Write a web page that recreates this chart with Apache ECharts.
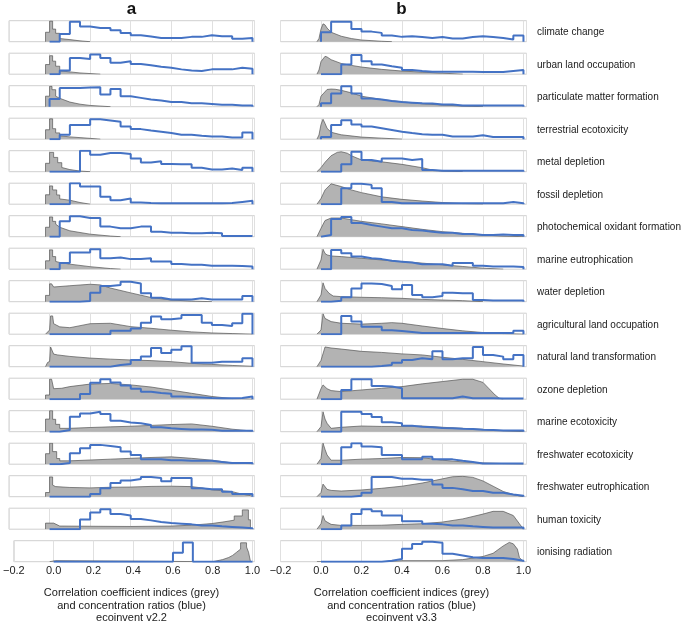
<!DOCTYPE html>
<html><head><meta charset="utf-8">
<script src="https://cdn.jsdelivr.net/npm/echarts@6/dist/echarts.min.js"></script>
<style>html,body{margin:0;padding:0;background:#fff}#c{width:685px;height:622px}</style>
</head><body><div id="c"></div>
<script>
const categories = ['climate change','urban land occupation','particulate matter formation','terrestrial ecotoxicity','metal depletion','fossil depletion','photochemical oxidant formation','marine eutrophication','water depletion','agricultural land occupation','natural land transformation','ozone depletion','marine ecotoxicity','freshwater ecotoxicity','freshwater eutrophication','human toxicity','ionising radiation'];
const columnTitles = ['a','b'];
const axisTitleA = ['Correlation coefficient indices (grey)','and concentration ratios (blue)','ecoinvent v2.2'];
const axisTitleB = ['Correlation coefficient indices (grey)','and concentration ratios (blue)','ecoinvent v3.3'];
const xTickLabels = ['\u22120.2','0.0','0.2','0.4','0.6','0.8','1.0'];
const binEdges = [0,0.05,0.1,0.15,0.2,0.25,0.3,0.35,0.4,0.45,0.5,0.55,0.6,0.65,0.7,0.75,0.8,0.85,0.9,0.95,1.0];

// concentration ratios (blue), 20 bins, relative height 0-10
const blueA = [
[0,3.7,9.5,7.2,6.5,6.5,5.4,4.2,3.1,2.5,1.8,1.8,1.8,2.3,2.3,3.1,2.6,2.6,1.4,1.8],
[0,1.8,7.7,7.2,9.4,7.7,5.4,6.2,4.9,4.3,3.5,3.1,2.3,1.8,1.5,2.3,2.3,2.3,3.1,2.6],
[3.7,8.9,8.9,9.1,9.3,5.8,8.4,5.0,4.2,3.4,3.0,2.2,2.2,1.6,1.6,1.3,0.9,0.9,0.6,0.6],
[0,2.1,6.8,6.8,9.5,8.9,8.3,6.0,4.8,4.1,3.5,2.9,2.1,2.1,1.6,1.3,1.3,0.8,0.8,3.2],
[0,0,0,10,8.1,8.9,8.9,8.4,6.3,4.4,5.0,3.7,3.5,3.5,1.9,1.1,1.1,1.5,0.8,1.9],
[0,0,10,8.4,8.4,3.5,1.9,2.7,0.8,0.6,0.5,0.5,0.4,0.4,0.4,0.4,0.5,0.6,1.1,1.6],
[0,7.3,9.7,8.9,8.9,4.8,4.0,4.0,4.8,4.8,2.4,1.9,1.9,1.6,1.6,1.9,1.6,0.3,0.3,0.3],
[0,2.9,7.9,7.9,9.5,5.2,5.6,4.8,4.8,5.2,3.7,3.7,2.5,2.1,2.1,1.7,1.7,1.7,1.5,1.3],
[0,0,0,0.3,4.3,7.5,8.0,9.5,8.7,4.0,1.9,1.1,1.1,1.1,1.6,1.1,1.1,1.1,1.1,2.7],
[0,0,0,0,0,0,1.6,1.6,2.7,5.5,8.4,7.1,7.6,9.2,9.2,5.5,4.4,3.9,5.2,9.7],
[0,0,0,0,0,0,0.8,1.3,3.2,4.8,8.9,6.5,8.1,9.7,1.9,1.9,2.4,2.4,2.4,4.0],
[0,0,0,2.5,7.8,9.5,8.0,6.5,5.0,3.5,2.9,2.6,1.3,1.0,0.8,0.6,0.5,0.5,0.6,1.3],
[0,0.8,7.1,8.7,9.5,8.4,5.2,4.4,4.0,3.2,2.1,1.6,1.3,1.0,1.0,0.9,0.5,0.5,0.5,0.5],
[0,0.6,5.2,7.6,9.2,8.7,8.1,6.0,4.4,2.4,2.4,1.9,1.9,1.6,1.6,1.6,1.1,0.6,0.6,0.6],
[0,0,0,0,1.3,4.0,6.5,7.7,8.4,9.4,8.9,7.3,8.9,8.9,4.0,3.5,3.5,2.4,1.3,1.3],
[0,0,0,4.6,8.0,9.5,7.2,6.5,4.9,4.2,3.4,2.9,2.6,2.3,1.8,1.8,1.4,1.1,0.8,0.5],
[0,0,0,0,0,0,0,0,0,0,0,0,4.3,9.2,0,0,0,0,0,0]
];
const blueB = [
[4.5,9.5,9.5,6.0,4.8,4.2,2.9,2.3,2.6,2.2,1.8,2.2,1.5,1.5,2.2,2.6,2.2,1.8,1.1,2.9],
[0,0,4.6,9.2,6.2,4.6,3.8,3.1,2.0,1.5,1.2,1.2,1.2,1.2,1.2,1.0,1.0,1.0,1.5,2.0],
[1.6,6.3,9.7,6.3,3.9,3.4,2.7,2.2,1.9,1.6,1.5,1.1,1.0,0.6,0.6,0.6,0.6,0.6,0.6,0.6],
[1.0,6.8,9.0,7.0,6.0,5.2,4.4,3.5,2.9,2.4,2.1,2.1,1.3,1.3,1.3,1.9,1.0,1.0,1.0,1.0],
[0,0,3.5,9.5,5.6,4.7,6.3,6.3,5.6,6.0,0.8,0.5,0.5,0.5,0.5,0.5,0.5,0.5,0.5,0.5],
[0,0,7.6,9.7,9.2,7.6,1.1,0.5,0.5,0.5,0.5,0.5,0.5,0.5,0.5,0.5,0.5,0.5,1.1,0.5],
[0.8,8.4,9.4,6.5,5.6,4.8,4.0,4.0,3.2,2.9,2.4,1.9,1.9,1.3,1.3,0.8,0.8,1.1,0.8,0.8],
[0,9.2,7.6,6.0,5.2,4.8,4.0,3.6,3.2,2.4,2.4,2.4,1.6,2.9,2.9,1.6,1.3,1.3,1.3,1.0],
[0,0.5,2.1,6.3,8.7,8.4,7.5,5.9,7.9,3.2,2.1,2.7,4.3,4.0,4.0,0.8,0.6,0.6,0.6,0.6],
[0,0,8.7,6.0,3.5,3.5,1.9,1.5,1.1,0.6,0.6,0.6,0.6,0.6,0.6,0.6,0.6,0.6,0.6,1.6],
[0,0,0,0,0,0.3,0.8,1.9,3.2,4.0,3.5,7.3,3.5,4.0,4.0,9.4,5.6,4.8,3.5,5.6],
[0,0,4.4,9.5,9.5,6.3,6.0,5.2,0.5,0.5,0.5,0.5,0.5,1.3,0.5,0.5,0.4,0.3,0.3,0.3],
[0,0,9.5,9.5,8.4,7.0,4.5,4.0,2.8,2.4,2.1,1.8,1.6,1.4,1.3,0.9,0.8,0.6,0.6,0.6],
[0,0,8.1,10,8.4,8.1,4.4,4.4,2.3,2.3,3.5,2.3,2.3,1.6,1.1,0.3,0.3,0.3,0.3,0.3],
[0,0,0,0.4,1.9,9.4,9.4,8.6,8.6,8.1,8.1,5.8,4.2,3.5,2.7,2.7,1.9,1.9,1.1,0.4],
[0,0,1.8,7.2,9.5,8.5,6.5,6.5,3.8,3.8,2.6,2.3,1.8,1.8,1.4,1.1,0.8,0.8,0.8,0.8],
[0,0,0,0,0,0,0.5,1.3,6.2,8.4,9.5,9.0,3.8,3.0,2.1,1.8,1.8,1.8,1.3,0.5]
];

// correlation coefficient index densities (grey), [x, relative height]
const greyA = [
[[-0.02,0],[-0.02,4.5],[0,4.5],[0,9.8],[0.015,9.8],[0.015,6],[0.03,6],[0.03,4],[0.05,4],[0.05,1.5],[0.1,1],[0.15,0.4],[0.2,0]],
[[-0.02,0],[-0.02,4.6],[0,4.6],[0,8.8],[0.015,8.8],[0.015,6.2],[0.03,6.2],[0.03,3.8],[0.05,3.8],[0.05,1.6],[0.1,1.1],[0.15,0.6],[0.25,0]],
[[-0.02,0],[-0.02,5],[0,5],[0,9.7],[0.012,9.7],[0.012,8.1],[0.03,8.1],[0.03,5],[0.05,4],[0.1,2.2],[0.15,1.2],[0.2,0.6],[0.3,0]],
[[-0.02,0],[-0.02,4.5],[0,4.5],[0,9.7],[0.015,9.7],[0.015,5],[0.03,5],[0.03,3],[0.05,3],[0.05,1.6],[0.1,1.1],[0.2,0.4],[0.25,0]],
[[-0.02,0],[-0.02,4],[0,4],[0,9.2],[0.02,9.2],[0.02,6.8],[0.04,6.8],[0.04,4.3],[0.06,4.3],[0.06,2],[0.1,1],[0.15,0.3],[0.2,0]],
[[-0.02,0],[-0.02,4.5],[0,4.5],[0,8.7],[0.015,8.7],[0.015,6.8],[0.035,6.8],[0.035,4.4],[0.05,4.4],[0.05,2.5],[0.1,1.9],[0.15,0.8],[0.2,0]],
[[-0.02,0],[-0.02,4.5],[0,4.5],[0,9.4],[0.015,9.4],[0.015,7.3],[0.03,7.3],[0.03,6],[0.05,4.5],[0.1,2.8],[0.2,1.2],[0.3,0.3],[0.35,0]],
[[-0.02,0],[-0.02,4],[0,4],[0,9.2],[0.015,9.2],[0.015,6],[0.03,6],[0.03,3.7],[0.05,3.2],[0.1,2.4],[0.2,1.2],[0.3,0.3],[0.35,0]],
[[-0.02,0],[-0.02,3],[0,3],[0,8.5],[0.01,8.5],[0.02,7],[0.1,7.6],[0.2,8.3],[0.25,8],[0.3,6.5],[0.4,4.2],[0.5,2],[0.6,0.8],[0.7,0.3],[0.8,0]],
[[-0.02,0],[-0.01,1],[0,2],[0.005,8.7],[0.015,8.7],[0.02,5],[0.05,3.5],[0.1,3.1],[0.2,5],[0.3,5.2],[0.4,3.6],[0.5,2.8],[0.6,1.9],[0.7,1.1],[0.8,0.6],[0.9,0.3],[1.0,0]],
[[-0.02,0],[-0.01,2],[0,2.5],[0.005,9.4],[0.012,9.4],[0.02,6],[0.04,5.6],[0.1,4.9],[0.2,4.1],[0.3,3.6],[0.4,3.2],[0.5,2.9],[0.6,2.4],[0.7,1.6],[0.8,1.1],[0.9,0.6],[1.0,0.2],[1.0,0]],
[[-0.02,0],[-0.02,2],[0,2],[0,9.5],[0.01,9.5],[0.02,5],[0.06,5.2],[0.1,6],[0.2,7.2],[0.3,7.5],[0.4,6.8],[0.5,5.8],[0.6,4.3],[0.7,2.8],[0.8,1.3],[0.9,0.3],[1.0,0]],
[[-0.02,0],[-0.02,6],[0,6],[0,10],[0.015,10],[0.015,5.9],[0.03,5.9],[0.03,3.5],[0.05,3.5],[0.05,1.6],[0.1,1.6],[0.2,2],[0.3,2.3],[0.4,2.6],[0.5,3],[0.6,3.4],[0.7,3.7],[0.8,2.6],[0.9,1.2],[1.0,0.3],[1.0,0]],
[[-0.02,0],[-0.02,5],[0,5],[0,10],[0.015,10],[0.015,6],[0.035,6],[0.035,2.7],[0.05,2.7],[0.05,1.6],[0.1,1.6],[0.2,2],[0.3,2.4],[0.4,2.8],[0.5,3.2],[0.6,3.5],[0.7,2.8],[0.8,1.9],[0.9,0.6],[1.0,0.2],[1.0,0]],
[[-0.02,0],[-0.02,2],[0,2],[0,9.4],[0.015,9.4],[0.015,5.5],[0.03,4.8],[0.1,4.4],[0.2,4.2],[0.3,4.5],[0.4,4.6],[0.5,4.9],[0.6,5],[0.7,4.8],[0.75,4.2],[0.8,3.3],[0.9,2.4],[0.95,1.2],[1.0,0.3],[1.0,0]],
[[-0.02,0],[-0.02,2.9],[0.02,2.9],[0.02,2],[0.05,1.5],[0.2,1.4],[0.4,1.3],[0.6,1.5],[0.7,1.9],[0.8,2.7],[0.86,3.5],[0.91,4.3],[0.91,6.3],[0.95,6.3],[0.95,9.2],[0.98,9.2],[0.98,4.5],[0.99,4.5],[0.99,0]],
[[-0.02,0],[-0.02,0.5],[0.01,0.5],[0.01,0],[0.8,0],[0.85,1],[0.88,2],[0.9,3],[0.92,4.5],[0.94,6],[0.94,9],[0.97,9],[0.97,7],[0.98,7],[0.98,4.5],[0.99,4.5],[0.99,0]]
];
const greyB = [
[[-0.02,0],[-0.01,1.5],[0,6],[0.01,8.5],[0.02,8],[0.03,6.5],[0.05,4.5],[0.1,2.6],[0.15,1.5],[0.2,0.8],[0.3,0.2],[0.35,0]],
[[-0.02,0],[-0.01,2],[0,6],[0.02,8.5],[0.03,8.2],[0.05,6.9],[0.1,5.1],[0.15,4.2],[0.2,3.4],[0.3,2.3],[0.4,1.5],[0.5,1],[0.6,0.5],[0.7,0]],
[[-0.02,0],[-0.01,1],[0,5],[0.03,8.2],[0.05,8.4],[0.07,8.3],[0.1,7.8],[0.15,6.6],[0.2,5],[0.3,3.4],[0.4,2.3],[0.5,1.4],[0.6,0.8],[0.7,0.3],[0.8,0]],
[[-0.02,0],[-0.01,2],[0,7],[0.01,9.5],[0.02,7.5],[0.03,5.2],[0.05,3.3],[0.1,2.1],[0.2,1],[0.3,0.5],[0.4,0]],
[[-0.02,0],[0,1.9],[0.02,4.5],[0.05,7.6],[0.08,9.2],[0.1,9.5],[0.13,8.8],[0.15,7.6],[0.2,5.6],[0.3,4.7],[0.4,3.5],[0.5,1.9],[0.55,0.8],[0.6,0.4],[0.7,0]],
[[-0.02,0],[0,2.7],[0.02,6.8],[0.05,9.7],[0.1,8.4],[0.15,6.8],[0.2,5.5],[0.3,3.5],[0.4,2.3],[0.5,1.5],[0.6,0.8],[0.7,0.3],[0.8,0]],
[[-0.02,0],[0,4],[0.02,7.7],[0.05,8.9],[0.1,8.9],[0.15,8.1],[0.2,7.3],[0.3,6.1],[0.4,4.8],[0.5,3.5],[0.6,2.4],[0.7,1.6],[0.8,0.8],[0.9,0.3],[1.0,0]],
[[-0.02,0],[0,4.4],[0.01,9.5],[0.02,7.5],[0.03,6.8],[0.05,6.3],[0.1,6],[0.2,5.2],[0.3,4.4],[0.4,3.6],[0.5,2.9],[0.6,2.1],[0.7,1.3],[0.8,0.5],[0.9,0]],
[[-0.02,0],[0,3.2],[0.01,9],[0.02,6.3],[0.04,4],[0.06,2.7],[0.1,2.4],[0.2,2.1],[0.3,1.9],[0.4,1.6],[0.5,1.1],[0.6,0.8],[0.7,0.5],[0.8,0]],
[[-0.02,0],[0,2],[0.01,9.7],[0.02,7.5],[0.05,6],[0.1,5.2],[0.2,4.8],[0.3,5.2],[0.35,5.5],[0.4,5.2],[0.5,3.9],[0.6,2.7],[0.7,1.6],[0.8,0.8],[0.9,0.3],[1.0,0]],
[[-0.02,0],[0,3],[0.02,9.4],[0.05,8.9],[0.1,8.4],[0.2,7.3],[0.3,6.8],[0.4,6.1],[0.5,5.6],[0.6,4.5],[0.7,3.5],[0.8,2.4],[0.9,1.3],[1.0,0.3],[1.0,0]],
[[-0.02,0],[0,5],[0.01,6.8],[0.03,5],[0.05,4.1],[0.1,3.6],[0.2,4.4],[0.3,5.2],[0.4,6],[0.5,7.3],[0.6,8.4],[0.7,9.5],[0.75,9.5],[0.8,8],[0.83,5],[0.86,2],[0.88,0.5],[0.9,0]],
[[-0.02,0],[0,2.4],[0.01,9.5],[0.02,6],[0.03,4],[0.05,1.6],[0.1,2.1],[0.2,2.7],[0.3,2.5],[0.4,2.5],[0.5,2.7],[0.6,2.1],[0.7,1.6],[0.8,1.1],[0.9,0.5],[1.0,0]],
[[-0.02,0],[0,2.7],[0.01,10],[0.02,7],[0.03,4.4],[0.05,1.9],[0.1,1.9],[0.2,2.4],[0.3,2.7],[0.4,3.2],[0.5,3.1],[0.6,1.9],[0.7,1.1],[0.8,0.6],[0.9,0.3],[1.0,0]],
[[-0.02,0],[0,2],[0.01,6],[0.03,3.5],[0.05,3],[0.1,2.7],[0.2,3.2],[0.3,4],[0.4,5],[0.5,6.5],[0.6,8.5],[0.65,9.5],[0.7,9.7],[0.75,9.2],[0.8,7.5],[0.85,5],[0.9,2.5],[0.95,1],[1.0,0]],
[[-0.02,0],[0,2.6],[0.01,6.5],[0.02,4],[0.03,3.4],[0.05,2.3],[0.1,1.8],[0.2,1.8],[0.3,1.9],[0.4,2.3],[0.5,2.6],[0.6,3.4],[0.7,4.9],[0.8,7.2],[0.85,8.5],[0.9,8.5],[0.95,6.5],[0.98,2.6],[1.0,0]],
[[-0.02,0],[0.3,0],[0.4,0.5],[0.6,0.5],[0.7,1],[0.8,2.5],[0.85,4],[0.9,7.5],[0.93,9.2],[0.95,8.5],[0.97,6],[0.98,2],[1.0,0]]
];

const FONT = '"Liberation Sans", Arial, Helvetica, sans-serif';
const chart = echarts.init(document.getElementById('c'), null, {renderer: 'canvas'});
const grids = [], xAxes = [], yAxes = [], series = [], graphics = [];
const cols = [
  {left: 9, width: 245.5, max: 1.01, blue: blueA, grey: greyA, cx: 131.5, title: axisTitleA},
  {left: 280.5, width: 246, max: 1.015, blue: blueB, grey: greyB, cx: 401.5, title: axisTitleB}
];
const ROW0 = 20.7, PITCH = 32.5, H = 21;

function stepData(vals) {
  const pts = [[binEdges[0], 0]];
  for (let i = 0; i < vals.length; i++) {
    pts.push([binEdges[i], vals[i]]);
    pts.push([binEdges[i + 1], vals[i]]);
  }
  pts.push([binEdges[binEdges.length - 1], 0]);
  return pts;
}

cols.forEach((c, ci) => {
  categories.forEach((cat, ri) => {
    const idx = grids.length;
    const top = ROW0 + PITCH * ri;
    const last = ri === categories.length - 1;
    grids.push({left: c.left, top: top, width: c.width, height: H, show: true,
      borderColor: '#cfcfcf', borderWidth: 1, backgroundColor: '#fff', containLabel: false});
    xAxes.push({type: 'value', gridIndex: idx, min: -0.2, max: c.max, interval: 0.2,
      axisLine: {show: false}, axisTick: {show: false},
      splitLine: {show: true, lineStyle: {color: '#e0e0e0', width: 1}},
      axisLabel: {show: last, margin: 4, fontSize: 11, color: '#222', fontFamily: FONT,
        showMaxLabel: false,
        formatter: v => {
          const k = Math.round((v + 0.2) / 0.2);
          return Math.abs((v + 0.2) / 0.2 - k) < 1e-6 && k < xTickLabels.length ? xTickLabels[k] : '';
        }}});
    yAxes.push({type: 'value', gridIndex: idx, min: 0, max: 10, show: false});
    series.push({type: 'line', xAxisIndex: idx, yAxisIndex: idx, data: c.grey[ri],
      symbol: 'none', silent: true, animation: false,
      lineStyle: {color: '#555', width: 0.7},
      areaStyle: {color: '#b3b3b3', opacity: 1}});
    series.push({type: 'line', xAxisIndex: idx, yAxisIndex: idx, data: stepData(c.blue[ri]),
      symbol: 'none', silent: true, animation: false,
      lineStyle: {color: '#4472c4', width: 2}});
    if (ci === 1) {
      graphics.push({type: 'text', x: 537, y: top + 12,
        style: {text: cat, fill: '#1a1a1a', font: '10px ' + FONT, align: 'left', verticalAlign: 'middle'}});
    }
  });
  graphics.push({type: 'text', x: c.cx, y: 9,
    style: {text: columnTitles[ci], fill: '#111', font: 'bold 17px ' + FONT, align: 'center', verticalAlign: 'middle'}});
  graphics.push({type: 'text', x: c.cx, y: 587,
    style: {text: c.title.join('\n'), fill: '#1a1a1a', font: '11px ' + FONT, align: 'center', verticalAlign: 'top', lineHeight: 12.5}});
});

chart.setOption({animation: false, grid: grids, xAxis: xAxes, yAxis: yAxes, series: series, graphic: graphics});
</script></body></html>
